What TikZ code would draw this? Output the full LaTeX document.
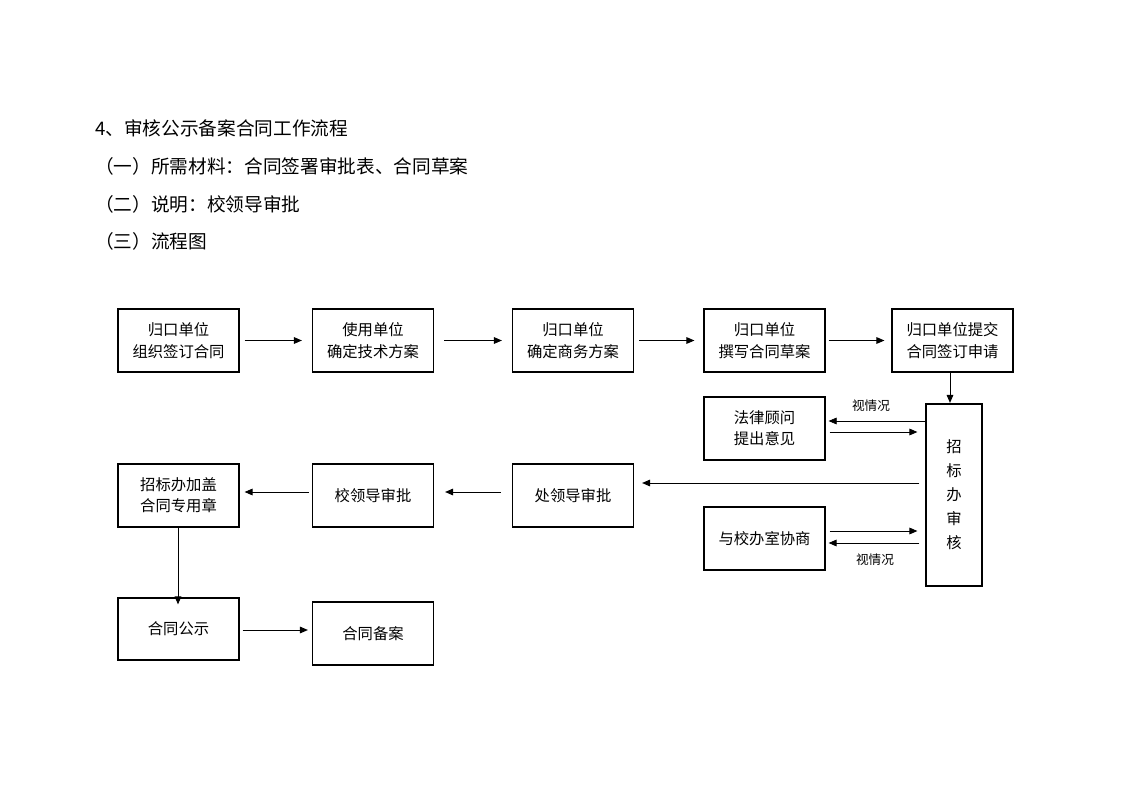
\documentclass[tikz,border=0pt]{standalone}
\usepackage{fontspec}
\setmainfont{Noto Sans CJK SC}
\usetikzlibrary{arrows.meta}
\begin{document}
\begin{tikzpicture}[x=0.75pt,y=-0.75pt,
  box/.style={draw,line width=0.9pt,minimum width=121*0.75pt,minimum height=63*0.75pt,inner sep=0pt,align=center,font=\fontsize{11.5}{16}\selectfont},
  conn/.style={line width=0.7pt,-{Triangle[length=6pt,width=5pt]}},
  lbl/.style={font=\fontsize{9.5}{11}\selectfont,inner sep=0pt},
  head/.style={anchor=west,inner sep=0pt,font=\fontsize{14}{16}\selectfont}]
\useasboundingbox (0,0) rectangle (1122,793);
\node[head] (h0) at (95,128) {4、审核公示备案合同工作流程};
\node[head] (h1) at (95,166) {（一）所需材料：合同签署审批表、合同草案};
\node[head] (h2) at (95,204) {（二）说明：校领导审批};
\node[head] (h3) at (95,241) {（三）流程图};

\node[box] (b1) at (178.5,340.5) {归口单位\\组织签订合同};
\node[box] (b2) at (373,340.5) {使用单位\\确定技术方案};
\node[box] (b3) at (573,340.5) {归口单位\\确定商务方案};
\node[box] (b4) at (764.5,340.5) {归口单位\\撰写合同草案};
\node[box] (b5) at (952.5,340.5) {归口单位提交\\合同签订申请};

\node[box,minimum width=56*0.75pt,minimum height=182*0.75pt] (zb) at (954,495) {招\\[2pt]标\\[2pt]办\\[2pt]审\\[2pt]核};
\node[box] (fl) at (764.5,428.5) {法律顾问\\提出意见};
\node[box] (xb) at (764.5,538.5) {与校办室协商};

\node[box] (cl) at (573,495.5) {处领导审批};
\node[box] (xl) at (373,495.5) {校领导审批};
\node[box] (zg) at (178.5,495.5) {招标办加盖\\合同专用章};

\node[box,minimum height=62*0.75pt] (gs) at (178.5,629) {合同公示};
\node[box] (ba) at (373,633.5) {合同备案};

\draw[conn] ([xshift=5*0.75pt]b1.east) -- ([xshift=-10*0.75pt]b2.west);
\draw[conn] ([xshift=10*0.75pt]b2.east) -- ([xshift=-10*0.75pt]b3.west);
\draw[conn] ([xshift=5*0.75pt]b3.east) -- ([xshift=-9*0.75pt]b4.west);
\draw[conn] ([xshift=3*0.75pt]b4.east) -- ([xshift=-7*0.75pt]b5.west);
\draw[conn] (b5.south -| 950,0) -- ([yshift=0.5*0.75pt]zb.north -| 950,0);

\draw[conn,line width=0.5pt] (zb.west |- 0,421) -- ([xshift=3*0.75pt]fl.east |- 0,421);
\draw[conn] ([xshift=4*0.75pt]fl.east |- 0,432) -- ([xshift=-8*0.75pt]zb.west |- 0,432);
\node[lbl] (l1) at (871,406) {视情况};

\draw[conn] ([xshift=-6*0.75pt]zb.west |- 0,483) -- ([xshift=8*0.75pt]cl.east |- 0,483);

\draw[conn] ([xshift=4*0.75pt]xb.east |- 0,531) -- ([xshift=-8*0.75pt]zb.west |- 0,531);
\draw[conn] ([xshift=-6*0.75pt]zb.west |- 0,543) -- ([xshift=3*0.75pt]xb.east |- 0,543);
\node[lbl] (l2) at (875,560) {视情况};

\draw[conn] ([xshift=-11*0.75pt]cl.west |- 0,492) -- ([xshift=11*0.75pt]xl.east |- 0,492);
\draw[conn] ([xshift=-3*0.75pt]xl.west |- 0,492) -- ([xshift=5*0.75pt]zg.east |- 0,492);
\draw[conn] (zg.south -| 178,0) -- ([yshift=-7*0.75pt]gs.north -| 178,0);
\draw[conn] ([xshift=3*0.75pt]gs.east |- 0,630) -- ([xshift=-4*0.75pt]ba.west |- 0,630);
\end{tikzpicture}
\end{document}
